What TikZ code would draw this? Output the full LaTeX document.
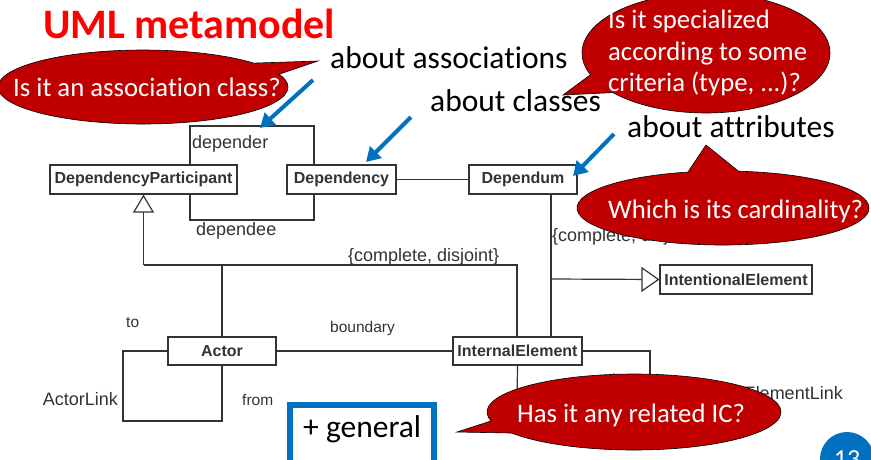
\documentclass[tikz,border=0pt]{standalone}
\usepackage{fontspec}
\setmainfont{Carlito}[RawFeature={-liga;-calt;-dlig;-clig}]
\newfontfamily\umlfont{Liberation Sans}
\usetikzlibrary{arrows.meta,shapes.callouts}
\definecolor{calloutred}{HTML}{C00000}
\definecolor{pptblue}{HTML}{0070C0}
\definecolor{umlgray}{HTML}{333333}
\definecolor{titlered}{HTML}{FF0000}
\newcommand\setfs[1]{\fontsize{#1}{#1}\selectfont}
\begin{document}
\begin{tikzpicture}[x=1pt,y=-1pt,
  umlclass/.style={draw=umlgray, line width=1.2pt, fill=white, inner sep=0pt, minimum height=29pt, font=\umlfont\bfseries\setfs{16}, text=umlgray},
  umlline/.style={draw=umlgray, line width=1.2pt},
  umllabel/.style={inner sep=0pt, font=\umlfont\setfs{18}, text=umlgray},
  umlsmall/.style={inner sep=0pt, font=\umlfont\setfs{15.5}, text=umlgray},
  bluearrow/.style={draw=pptblue, line width=4pt, -{Triangle[length=14pt,width=16pt]}},
  note/.style={inner sep=0pt, anchor=base west, font=\setfs{31.5}},
  bubble/.style={shape=ellipse callout, fill=calloutred, draw=black, line width=0.6pt, inner sep=0pt, callout pointer arc=20},
  bubbletext/.style={inner sep=0pt, anchor=base west, text=white, font=\setfs{26.7}},
]
\fill[white] (0,0) rectangle (871,459);
\clip (0,0) rectangle (871,459);

% ---------- UML classes ----------
\node[umlclass, minimum width=187pt] (DP) at (143.5,179.5) {DependencyParticipant};
\node[umlclass, minimum width=109pt] (Dep) at (341.5,179.5) {Dependency};
\node[umlclass, minimum width=108pt] (Dum) at (523,179.5) {Dependum};
\node[umlclass, minimum width=152pt] (IntE) at (736,279.5) {IntentionalElement};
\node[umlclass, minimum width=108pt, minimum height=28pt] (Actor) at (222,351) {Actor};
\node[umlclass, minimum width=129pt, minimum height=28pt] (IE) at (517.5,351) {InternalElement};

% ---------- UML connectors ----------
\coordinate (a1) at (190,126);
\coordinate (a2) at (314,126);
\coordinate (b1) at (190,220);
\coordinate (b2) at (314,220);
\draw[umlline] (DP.north -| a1) -- (a1) -- (a2) -- (Dep.north -| a2);
\draw[umlline] (DP.south -| b1) -- (b1) -- (b2) -- (Dep.south -| b2);
\draw[umlline] (Dep.east) -- (Dum.west);

\coordinate (g1) at (143.5,265);
\coordinate (g2) at (517,265);
\coordinate (gA) at (222,265);
\draw[umlline, -{Triangle[open,length=18pt,width=21pt]}] (g1) -- (DP.south);
\draw[umlline] (g1) -- (g2) -- (IE.north -| g2);
\draw[umlline] (gA) -- (Actor.north);

\coordinate (d1) at (551,279);
\draw[umlline] (Dum.south -| d1) -- (d1) -- (IE.north -| d1);
\draw[umlline, -{Triangle[open,length=18pt,width=25pt]}] (d1) -- (IntE.west);

\draw[umlline] (Actor.east) -- (IE.west);
\coordinate (l1) at (123,351);
\coordinate (l2) at (123,421);
\coordinate (l3) at (222,421);
\draw[umlline] (Actor.west) -- (l1) -- (l2) -- (l3) -- (Actor.south);

\coordinate (e1) at (517,405);
\coordinate (e2) at (650,351);
\coordinate (e3) at (650,395);
\draw[umlline] (IE.south) -- (e1);
\draw[umlline] (IE.east) -- (e2) -- (e3);

% ---------- UML labels ----------
\node[umllabel, anchor=west] (ldepender) at (192,143.5) {depender};
\node[umllabel, anchor=west] (ldependee) at (196,231) {dependee};
\node[umllabel, anchor=west] (lcd1) at (348,257) {\{complete, disjoint\}};
\node[umllabel, anchor=west] (lcd2) at (552,237) {\{complete, disjoint\}};
\node[umlsmall, anchor=west] (lto) at (126,323) {to};
\node[umlsmall, anchor=west] (lboundary) at (330,328) {boundary};
\node[umlsmall, anchor=west] (lfrom) at (242,400) {from};
\node[umllabel, anchor=east] (lactorlink) at (118,399) {ActorLink};
\node[umlsmall, anchor=west] (lto2) at (612,379) {to};
\node[umllabel, anchor=east] (lielink) at (843,393) {InternalElementLink};

% ---------- title and notes ----------
\node[inner sep=0pt, anchor=base west, text=titlered, font=\bfseries\setfs{42}] (title) at (43,38) {UML metamodel};
\node[note] (n1) at (330,68) {about associations};
\node[note] (n2) at (430,111) {about classes};
\node[note] (n3) at (627,137) {about attributes};

\coordinate (p1s) at (313,80);
\coordinate (p1e) at (260,128);
\coordinate (p2s) at (411,117);
\coordinate (p2e) at (366,162);
\coordinate (p3s) at (614,134);
\coordinate (p3e) at (573,176);
\draw[bluearrow] (p1s) -- (p1e);
\draw[bluearrow] (p2s) -- (p2e);
\draw[bluearrow] (p3s) -- (p3e);

% ---------- callouts ----------
\node[bubble, minimum width=290pt, minimum height=74pt, callout absolute pointer={(318,61)}] (b1) at (143,87) {};
\node[bubbletext] (t1) at (13,96) {Is it an association class?};

\node[bubble, minimum width=248pt, minimum height=120pt, callout absolute pointer={(563,95)}] (b2) at (706,53) {};
\node[bubbletext] (t2a) at (608,28) {Is it specialized};
\node[bubbletext] (t2b) at (608,60) {according to some};
\node[bubbletext] (t2c) at (608,91) {criteria (type, ...)?};

\node[bubble, minimum width=292pt, minimum height=74pt, callout absolute pointer={(706,145)}] (b3) at (723,208) {};
\node[bubbletext] (t3) at (608,218) {Which is its cardinality?};

\node[bubble, minimum width=294pt, minimum height=76pt, callout absolute pointer={(457,432)}] (b4) at (634,412) {};
\node[bubbletext] (t4) at (517,422) {Has it any related IC?};

% ---------- general box and page number ----------
\node[draw=pptblue, line width=6pt, minimum width=144pt, minimum height=60pt, inner sep=0pt] (genbox) at (362,435) {};
\node[note] (gen) at (303,437) {+ general};
\node[circle, fill=pptblue, minimum size=54pt, inner sep=0pt, text=white, font=\setfs{26}] (page) at (847,459) {13};
\end{tikzpicture}
\end{document}
